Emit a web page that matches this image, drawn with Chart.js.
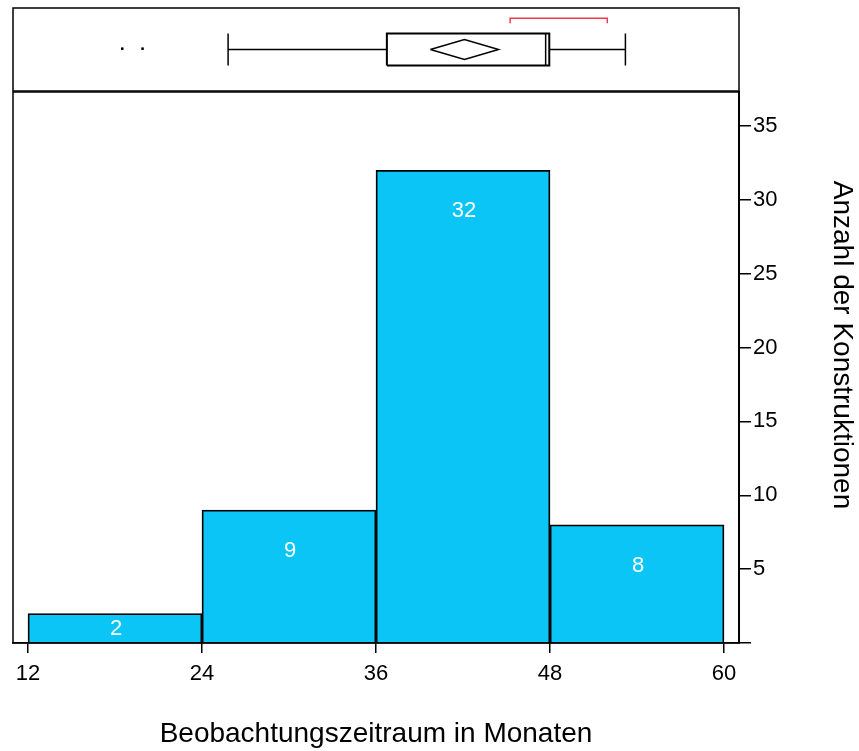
<!DOCTYPE html>
<html><head><meta charset="utf-8">
<script src="https://cdn.jsdelivr.net/npm/chart.js@4"></script>
<style>
html,body{margin:0;padding:0;background:#fff;}
#wrap{position:relative;width:859px;height:751px;}
canvas{position:absolute;left:0;top:0;}
#box{pointer-events:none;}
</style></head><body>
<div id="wrap"><canvas id="hist" width="859" height="751"></canvas><canvas id="box" width="859" height="751"></canvas></div>
<script>
// ---- data ----
const binEdges = [12, 24, 36, 48, 60];
const counts = [2, 9, 32, 8];
const xTickValues = [12, 24, 36, 48, 60];
const yTickValues = [0, 5, 10, 15, 20, 25, 30, 35];
const boxSummary = [25.8, 36.75, 47.7, 47.95, 53.2];   // whisker low, Q1, median, Q3, whisker high
const meanDiamond = [39.75, 42.1, 44.45];              // lower, mean, upper
const outlierValues = [18.5, 19.9];
const shortestHalf = [45.25, 51.95];
const xTitle = 'Beobachtungszeitraum in Monaten';
const yTitle = 'Anzahl der Konstruktionen';

// ---- style / layout ----
const X_MIN = 10.966, X_MAX = 61.034, Y_MAX = 37.3;
const FONT = "'Liberation Sans', Arial, Helvetica, sans-serif";
Chart.defaults.font.family = FONT;
Chart.defaults.color = '#000';
Chart.defaults.animation = false;

const frame = {
  id: 'frame',
  afterDraw(chart) {
    const {ctx, chartArea: a} = chart;
    ctx.save();
    ctx.strokeStyle = '#000';
    ctx.lineWidth = 1.5;
    ctx.strokeRect(a.left, a.top, a.right - a.left, a.bottom - a.top);
    ctx.restore();
  }
};

const barLabels = {
  id: 'barLabels',
  afterDatasetsDraw(chart) {
    const meta = chart.getDatasetMeta(0);
    const ctx = chart.ctx;
    ctx.save();
    ctx.fillStyle = '#fff';
    ctx.font = '22px ' + FONT;
    ctx.textAlign = 'center';
    ctx.textBaseline = 'middle';
    meta.data.forEach((bar, i) => {
      const y = Math.min(bar.y + 41, (bar.y + bar.base) / 2 + 1);
      ctx.fillText(String(counts[i]), bar.x + 1, y);
    });
    ctx.restore();
  }
};

const yAxisTitle = {
  id: 'yAxisTitle',
  afterDraw(chart) {
    const ctx = chart.ctx;
    ctx.save();
    ctx.translate(842, 345);
    ctx.rotate(Math.PI / 2);
    ctx.fillStyle = '#000';
    ctx.font = '28px ' + FONT;
    ctx.textAlign = 'center';
    ctx.textBaseline = 'middle';
    ctx.fillText(yTitle, 0, 0);
    ctx.restore();
  }
};

new Chart(document.getElementById('hist'), {
  type: 'bar',
  data: {
    datasets: [{
      data: counts.map((c, i) => ({x: (binEdges[i] + binEdges[i + 1]) / 2, y: c})),
      backgroundColor: '#0AC5F6',
      borderColor: '#000',
      borderWidth: 1.8,
      barPercentage: 1,
      categoryPercentage: 1
    }]
  },
  options: {
    responsive: false,
    animation: false,
    events: [],
    layout: {padding: {left: 13, top: 92, right: 0, bottom: 0}},
    plugins: {legend: {display: false}, tooltip: {enabled: false}},
    scales: {
      x: {
        type: 'linear', min: X_MIN, max: X_MAX, offset: false, position: 'bottom',
        afterBuildTicks(s) { s.ticks = xTickValues.map(v => ({value: v})); },
        afterFit(s) { s.height = 108; },
        grid: {offset: false, drawOnChartArea: false, drawTicks: true, tickLength: 10, color: '#000', lineWidth: 1.5},
        border: {display: true, color: '#000', width: 1.5},
        ticks: {font: {size: 22}, color: '#000', padding: 8, maxRotation: 0, autoSkip: false},
        title: {display: true, text: xTitle, font: {size: 28}, color: '#000', padding: {top: 0, bottom: 0}}
      },
      y: {
        type: 'linear', position: 'right', min: 0, max: Y_MAX,
        afterBuildTicks(s) { s.ticks = yTickValues.map(v => ({value: v})); },
        afterFit(s) { s.width = 120; },
        grid: {drawOnChartArea: false, drawTicks: true, tickLength: 12, color: '#000', lineWidth: 1.5},
        border: {display: true, color: '#000', width: 2},
        ticks: {font: {size: 22}, color: '#000', padding: 2, autoSkip: false,
                callback: v => (v === 0 ? '' : String(v))},
        title: {display: false}
      }
    }
  },
  plugins: [frame, barLabels, yAxisTitle]
});

// ---- box plot panel ----
const MID = 0.5, BOX_H = 0.193, DIA_H = 0.12, BR_TOP = 0.876, BR_BOT = 0.816;
function seg(points, color, width) {
  return {type: 'scatter', data: points, showLine: true, borderColor: color, borderWidth: width,
          pointRadius: 0, fill: false, tension: 0};
}
const [wLo, q1, med, q3, wHi] = boxSummary;
const [dLo, mean, dHi] = meanDiamond;
const [sLo, sHi] = shortestHalf;

new Chart(document.getElementById('box'), {
  type: 'scatter',
  data: {
    datasets: [
      seg([{x: wLo, y: MID}, {x: q1, y: MID}], '#000', 1.5),
      seg([{x: q3, y: MID}, {x: wHi, y: MID}], '#000', 1.5),
      seg([{x: wLo, y: MID - BOX_H}, {x: wLo, y: MID + BOX_H}], '#000', 1.5),
      seg([{x: wHi, y: MID - BOX_H}, {x: wHi, y: MID + BOX_H}], '#000', 1.5),
      seg([{x: q1, y: MID - BOX_H}, {x: q1, y: MID + BOX_H}, {x: q3, y: MID + BOX_H},
           {x: q3, y: MID - BOX_H}, {x: q1, y: MID - BOX_H}], '#000', 2),
      seg([{x: med, y: MID - BOX_H}, {x: med, y: MID + BOX_H}], '#000', 1.5),
      seg([{x: dLo, y: MID}, {x: mean, y: MID + DIA_H}, {x: dHi, y: MID},
           {x: mean, y: MID - DIA_H}, {x: dLo, y: MID}], '#000', 1.5),
      seg([{x: sLo, y: BR_BOT}, {x: sLo, y: BR_TOP}, {x: sHi, y: BR_TOP}, {x: sHi, y: BR_BOT}], '#EC3A50', 1.5),
      {type: 'scatter', data: outlierValues.map(v => ({x: v, y: MID + 0.01})), pointStyle: 'rect',
       pointRadius: 1.8, backgroundColor: '#000', borderColor: '#000', borderWidth: 0}
    ]
  },
  options: {
    responsive: false,
    animation: false,
    events: [],
    layout: {padding: {left: 13, right: 120, top: 8, bottom: 660}},
    plugins: {legend: {display: false}, tooltip: {enabled: false}},
    scales: {
      x: {type: 'linear', min: X_MIN, max: X_MAX, display: false},
      y: {type: 'linear', min: 0, max: 1, display: false}
    }
  },
  plugins: [frame]
});
</script>
</body></html>
